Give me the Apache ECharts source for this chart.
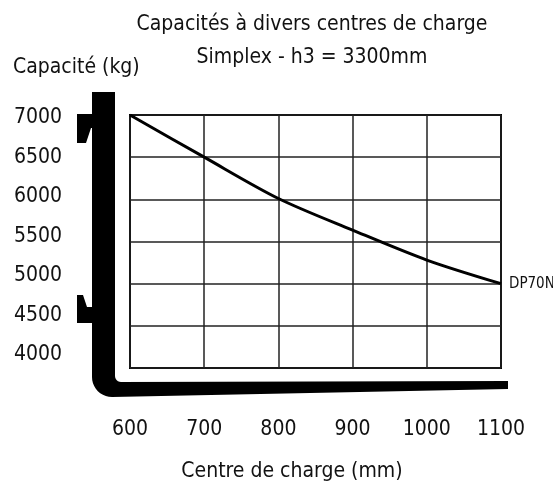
<!DOCTYPE html>
<html>
<head>
<meta charset="utf-8">
<script src="https://cdn.jsdelivr.net/npm/echarts@6/dist/echarts.min.js"></script>
<style>html,body{margin:0;padding:0;background:#fff}#c{width:553px;height:484px}</style>
</head>
<body>
<div id="c"></div>
<script>
const centres = [600, 700, 800, 900, 1000, 1100];
const capacites = [7000, 6500, 6010, 5635, 5280, 5000];
const seriesName = 'DP70N';
const titleText = 'Capacités à divers centres de charge';
const subTitleText = 'Simplex - h3 = 3300mm';
const yName = 'Capacité (kg)';
const xName = 'Centre de charge (mm)';

const FONT = '"Liberation Sans Narrow", "DejaVu Sans Condensed", "Liberation Sans", sans-serif';
const chart = echarts.init(document.getElementById('c'), null, {renderer: 'canvas'});

const txt = (extra) => Object.assign({fontFamily: FONT, fontSize: 21, color: '#111', fontWeight: 'normal'}, extra || {});

// quarter arc helper for the decorative fork outline
function arc(cx, cy, r, a0, a1, n) {
  const pts = [];
  for (let i = 0; i <= n; i++) {
    const a = a0 + (a1 - a0) * i / n;
    pts.push([cx + r * Math.cos(a), cy + r * Math.sin(a)]);
  }
  return pts;
}
const forkPts = [].concat(
  [[92, 92], [115, 92], [115, 376]],
  arc(121, 376, 6, Math.PI, Math.PI / 2, 6),
  [[508, 381], [508, 389], [112, 397]],
  arc(112, 377, 20, Math.PI / 2, Math.PI, 10)
);

const option = {
  animation: false,
  backgroundColor: '#fff',
  title: [
    {text: titleText, left: 307, top: 9, textAlign: 'center', textStyle: txt()},
    {text: subTitleText, left: 307, top: 42, textAlign: 'center', textStyle: txt()},
    {text: yName, left: 8, top: 52, textStyle: txt()},
    {text: xName, left: 287, top: 456, textAlign: 'center', textStyle: txt()}
  ],
  graphic: [
    {type: 'polygon', z: 1, shape: {points: forkPts}, style: {fill: '#000'}},
    {type: 'polygon', z: 1, shape: {points: [[77,114],[93,114],[93,128],[91,128],[86,143],[77,143]]}, style: {fill: '#000'}},
    {type: 'polygon', z: 1, shape: {points: [[77,295],[83,295],[87,307],[93,307],[93,323],[77,323]]}, style: {fill: '#000'}}
  ],
  grid: [
    {left: 130, top: 115, width: 371, height: 253, show: true, borderColor: '#000', borderWidth: 2, backgroundColor: 'transparent'},
    {left: 130, top: 117.5, width: 371, height: 237.5, show: false}
  ],
  xAxis: [
    {gridIndex: 0, type: 'value', min: 600, max: 1100, interval: 100,
      axisLine: {show: false}, axisTick: {show: false},
      axisLabel: {margin: 51, fontFamily: FONT, fontSize: 21, color: '#111', formatter: v => String(v)},
      splitLine: {show: true, lineStyle: {color: '#222', width: 1.5}}},
    {gridIndex: 1, type: 'value', min: 600, max: 1100, show: false}
  ],
  yAxis: [
    {gridIndex: 0, type: 'value', min: 4000, max: 7000, interval: 500,
      axisLine: {show: false}, axisTick: {show: false}, axisLabel: {show: false},
      splitLine: {show: true, lineStyle: {color: '#222', width: 1.5}}},
    {gridIndex: 1, type: 'value', min: 4000, max: 7000, interval: 500,
      axisLine: {show: false}, axisTick: {show: false}, splitLine: {show: false},
      axisLabel: {margin: 68, fontFamily: FONT, fontSize: 21, color: '#111', formatter: v => String(v)}}
  ],
  series: [{
    name: seriesName, type: 'line', xAxisIndex: 0, yAxisIndex: 0,
    data: centres.map((c, i) => [c, capacites[i]]),
    smooth: 0.3, showSymbol: false, symbol: 'none',
    lineStyle: {color: '#000', width: 3},
    z: 5,
    endLabel: {show: true, formatter: seriesName, distance: 8, fontFamily: FONT, fontSize: 15, color: '#111'}
  }]
};
chart.setOption(option);
</script>
</body>
</html>
